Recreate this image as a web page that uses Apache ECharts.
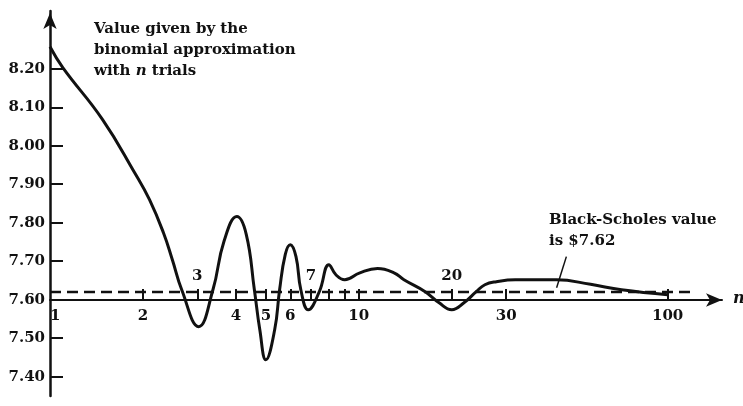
<!DOCTYPE html>
<html><head><meta charset="utf-8">
<script src="https://cdn.jsdelivr.net/npm/echarts@6/dist/echarts.min.js"></script>
<style>html,body{margin:0;padding:0;background:#fff}#c{width:743px;height:406px}</style>
</head><body><div id="c"></div>
<script>
// n (number of binomial trials) and the option value it gives
const nValues = [1, 1.10, 1.48, 1.88, 2.1, 2.33, 2.49, 2.67, 3.03, 3.37, 3.66, 4.03, 4.32, 4.59, 4.78, 5.0, 5.34, 5.54, 5.78, 6.0, 6.26, 6.49, 6.86, 7.45, 8.0, 8.43, 9.0, 10.08, 11.5, 13.0, 14.0, 16.4, 18.2, 20, 21.9, 24.0, 25.6, 27.9, 32.1, 37.5, 43.7, 56.3, 70.9, 100];
const binomialValues = [8.257, 8.203, 8.068, 7.93, 7.86, 7.774, 7.704, 7.626, 7.530, 7.626, 7.752, 7.816, 7.77, 7.626, 7.522, 7.444, 7.522, 7.626, 7.718, 7.743, 7.712, 7.626, 7.574, 7.621, 7.691, 7.665, 7.652, 7.670, 7.681, 7.670, 7.652, 7.621, 7.592, 7.574, 7.592, 7.621, 7.639, 7.647, 7.652, 7.652, 7.652, 7.640, 7.626, 7.613];
const blackScholesValue = 7.62;
const dashedExtent = [1, 120];
const xTickValues = [2, 3, 4, 5, 6, 7, 8, 9, 10, 20, 30, 100];
const xLabelsBelow = [1, 2, 4, 5, 6, 10, 30, 100];
const xLabelsAbove = [3, 7, 20];
const yTickValues = [7.4, 7.5, 7.6, 7.7, 7.8, 7.9, 8.0, 8.1, 8.2];
const pointerLine = [[47, 7.712], [43.7, 7.631]];

const FONT = 'DejaVu Serif';
const INK = '#111';
const chart = echarts.init(document.getElementById('c'), null, {renderer: 'canvas'});
const curve = nValues.map((n, i) => [n, binomialValues[i]]);
const dashed = dashedExtent.map(n => [n, blackScholesValue]);

chart.setOption({
  backgroundColor: '#fff',
  animation: false,
  grid: {left: 50, right: 21, top: 11, bottom: 10, containLabel: false},
  xAxis: [{
    type: 'log', logBase: 10, min: 1, max: 150,
    position: 'bottom', offset: -96,
    axisLine: {show: true, symbol: ['none', 'arrow'], symbolSize: [10, 16], lineStyle: {color: INK, width: 2}},
    axisTick: {show: true, inside: true, length: 11, customValues: xTickValues, lineStyle: {color: INK, width: 2}},
    axisLabel: {show: true, customValues: xLabelsBelow, margin: 9, color: INK, fontFamily: FONT, fontSize: 15, fontWeight: 'bold', alignMinLabel: 'left'},
    splitLine: {show: false}, minorTick: {show: false}
  }, {
    type: 'log', logBase: 10, min: 1, max: 150,
    position: 'bottom', offset: -96,
    axisLine: {show: false}, axisTick: {show: false},
    axisLabel: {show: true, inside: true, customValues: xLabelsAbove, margin: 16, color: INK, fontFamily: FONT, fontSize: 15, fontWeight: 'bold'},
    splitLine: {show: false}
  }],
  yAxis: {
    type: 'value', min: 7.35, max: 8.35,
    axisLine: {show: true, symbol: ['none', 'arrow'], symbolSize: [10, 16], symbolOffset: [0, -2], lineStyle: {color: INK, width: 2.5}},
    axisTick: {show: true, inside: true, length: 13, customValues: yTickValues, lineStyle: {color: INK, width: 2}},
    axisLabel: {show: true, customValues: yTickValues, margin: 5, color: INK, fontFamily: FONT, fontSize: 15, fontWeight: 'bold',
      formatter: v => Number(v).toFixed(2)},
    splitLine: {show: false}
  },
  series: [{
    type: 'line', data: dashed, showSymbol: false, symbol: 'none',
    lineStyle: {color: INK, width: 2.5, type: [11, 6]},
    markLine: {silent: true, symbol: 'none', label: {show: false},
      lineStyle: {color: INK, width: 1.5, type: 'solid'},
      data: [[{coord: pointerLine[0]}, {coord: pointerLine[1]}]]}
  }, {
    type: 'line', data: curve, smooth: 0.45, showSymbol: false, symbol: 'none',
    lineStyle: {color: INK, width: 3}
  }],
  graphic: [{
    type: 'text', left: 94, top: 19,
    style: {text: 'Value given by the\nbinomial approximation\nwith {i|n} trials', fill: INK, font: 'bold 15px "DejaVu Serif"', lineHeight: 21,
      rich: {i: {fontStyle: 'italic', fontWeight: 'bold', fontFamily: FONT, fontSize: 15, fill: INK}}}
  }, {
    type: 'text', left: 549, top: 210,
    style: {text: 'Black-Scholes value\nis $7.62', fill: INK, font: 'bold 15px "DejaVu Serif"', lineHeight: 21}
  }, {
    type: 'text', left: 733, top: 291,
    style: {text: 'n', fill: INK, font: 'italic bold 16px "DejaVu Serif"'}
  }]
});
</script></body></html>
